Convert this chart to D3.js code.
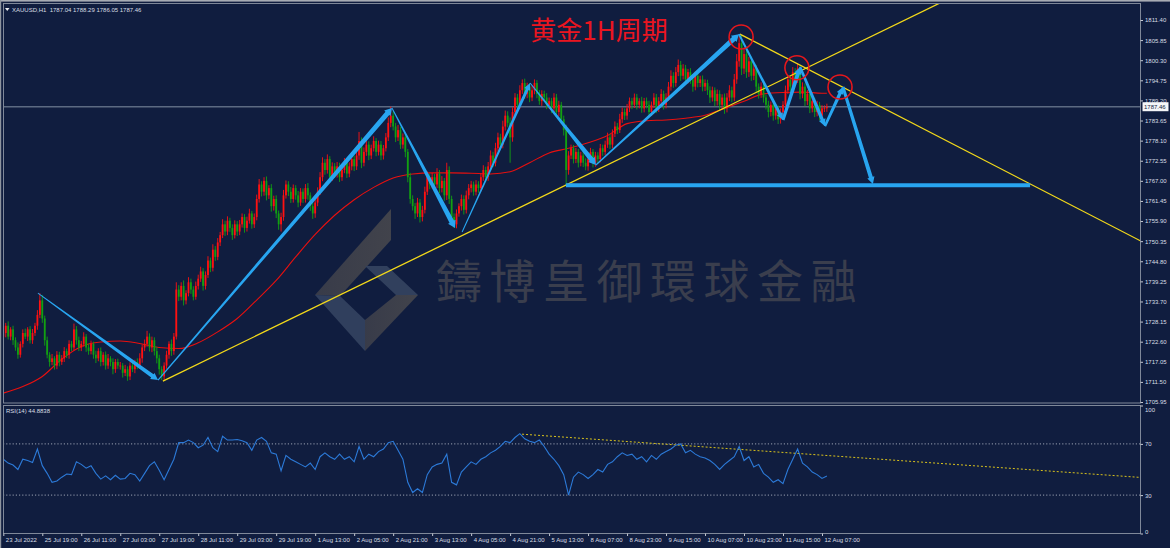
<!DOCTYPE html>
<html><head><meta charset="utf-8">
<script src="https://cdn.jsdelivr.net/npm/d3@7/dist/d3.min.js"></script>
<style>body{margin:0;background:#101d3f;overflow:hidden}svg{display:block}</style>
</head><body>
<svg id="c" width="1170" height="548"></svg>
<script>
// ---------------- DATA ----------------
const symbolHeader = "XAUUSD,H1  1787.04 1788.29 1786.05 1787.46";
const titleText = "黄金1H周期";
const watermarkText = "鑄博皇御環球金融";
const rsiLabel = "RSI(14) 44.8838";

const firstOpen = 1724;
// hourly closes, one per bar
const closes = [
1725,1727,1724,1726,1723,1721,1719,1722,1725,1724,1726,1723,1725,1727,1730,1734,
1729,1723,1719,1717,1718,1716,1719,1717,1718,1720,1719,1722,1721,1726,1723,1721,
1722,1724,1721,1720,1722,1719,1718,1720,1717,1719,1716,1718,1717,1715,1717,1716,
1716,1714,1715,1713,1716,1715,1717,1716,1718,1721,1722,1724,1721,1723,1720,1718,
1715,1713,1716,1719,1722,1720,1724,1737,1735,1738,1734,1736,1739,1737,1735,1738,
1740,1742,1738,1741,1745,1743,1748,1746,1750,1752,1755,1753,1756,1754,1752,1755,
1753,1755,1757,1754,1756,1758,1755,1757,1762,1766,1764,1767,1763,1765,1760,1762,
1758,1755,1757,1763,1766,1764,1762,1765,1763,1761,1764,1762,1765,1763,1760,1758,
1761,1764,1768,1772,1770,1773,1768,1771,1769,1771,1768,1770,1772,1769,1771,1773,
1771,1774,1778,1772,1775,1777,1774,1776,1778,1775,1777,1774,1776,1779,1783,1785,
1782,1779,1781,1777,1779,1775,1768,1762,1760,1758,1761,1757,1759,1764,1768,1766,
1768,1766,1769,1765,1767,1763,1770,1762,1757,1755,1758,1760,1762,1759,1763,1765,
1766,1764,1766,1765,1768,1770,1768,1771,1774,1772,1776,1779,1777,1782,1785,1783,
1779,1786,1790,1788,1792,1794,1791,1793,1790,1792,1794,1791,1789,1791,1790,1788,
1789,1787,1790,1786,1788,1784,1781,1770,1774,1776,1773,1775,1772,1774,1772,1771,
1773,1775,1772,1774,1773,1776,1775,1777,1779,1777,1780,1782,1781,1784,1786,1785,
1787,1789,1788,1790,1788,1789,1787,1789,1788,1786,1788,1790,1787,1789,1791,1788,
1790,1793,1796,1794,1797,1799,1796,1798,1795,1797,1795,1793,1796,1794,1795,1793,
1794,1792,1790,1792,1789,1791,1788,1790,1787,1790,1792,1790,1795,1800,1805,1798,
1802,1797,1800,1796,1798,1793,1791,1793,1790,1788,1786,1788,1785,1787,1784,1786,
1788,1792,1795,1793,1797,1795,1798,1791,1793,1789,1791,1787,1789,1786,1788,1785,
1787,1787.04,1787.46];
// upper wick length above body top, per bar
const wickUp = [
1,0.8,1.2,0.6,1,0.8,1.4,0.7,1,1.2,0.6,0.9,1.1,0.8,1.3,2,
1.5,0.8,1,0.7,1.2,0.6,1,0.8,0.9,1.1,0.7,1,0.8,1.6,0.9,1,
0.8,1.2,0.7,1,0.9,0.6,1.1,0.8,1,0.7,0.9,1.2,0.6,1,0.8,0.9,
1,0.7,1.2,0.8,0.9,1.1,0.6,1,1.4,0.8,1.2,1.6,0.9,1,0.8,1.2,
1,0.8,0.9,1.1,0.7,1.2,1,2,1.2,1,1.5,0.8,1.4,1,0.9,1.2,
1.1,1.3,0.9,1,1.2,0.8,1.5,1,1.2,0.9,1.4,1,1.2,0.8,1,1.1,
0.9,1.2,1,0.8,1.1,1.3,0.7,1,1.2,1.5,0.9,1,1.2,0.8,1.1,0.9,
1,0.8,1.2,1.5,1.1,0.9,1.3,1,0.8,1.2,1,0.9,1.1,1.4,0.8,1,
0.9,1.2,1.4,1.5,1,1.3,0.8,1.1,0.9,1.2,1,0.8,1.3,0.9,1.1,1.2,
1,1.3,2.5,1,1.2,1.4,0.9,1,1.3,0.8,1.1,1,0.9,1.2,1.5,2.5,
1.2,1,1.4,0.9,1.1,1,0.8,1.2,1,0.9,1.3,1,1.1,1.4,1.6,1,
1.2,0.9,1.5,1,1.3,0.8,2,1,0.9,1,1.1,0.8,1.2,1,1.3,1.1,
1,0.8,1.2,0.9,1.1,1.3,0.9,1.2,1.4,1,1.5,1.3,1,1.6,1.4,1.2,
1.5,1.3,1.2,1,1.4,1,1.2,1.1,0.9,1.3,1,0.8,1.1,1,0.9,1.2,
1,0.9,1.2,1,1.1,0.8,1,1.5,1.2,1,0.9,1.1,0.8,1,0.9,1.2,
1,1.1,0.8,1,0.9,1.2,1,1.1,1.3,0.9,1.2,1.4,1,1.5,1.2,1,
1.2,1,0.9,1.1,1,0.8,1.2,0.9,1,1.1,0.9,1.2,1,1.1,1.3,0.9,
1.2,1.3,1.5,1,1.4,1.5,1.1,1.2,1,0.9,1.1,1,1.2,0.9,1,1.1,
1,0.9,1.1,1,0.8,1.2,1,0.9,1.1,1.2,1.4,1,1.5,2,2.5,2.2,
1.8,1.5,1.2,1.3,1.1,1,0.9,1.2,1,0.8,1.1,0.9,1,1.2,0.8,1,
1,1.3,1.2,1,1.4,1.1,1.5,1,1.2,0.9,1.1,0.8,1,0.9,1.1,0.8,
0.9,0.8,0.83];
// lower wick length below body bottom, per bar
const wickDn = [
1,1.2,0.8,1,1.3,0.9,1.1,0.8,1,0.7,1.2,0.9,1,0.8,1.1,0.9,
1.2,1.5,1,1.3,0.9,1.1,1,1.2,0.8,1,0.9,1.1,1,0.8,1.2,1,
1,0.8,1.2,1,0.9,1.1,1.3,0.8,1.2,1,1.1,0.9,1.2,1.4,1,0.9,
1.1,1.3,0.9,1.2,1,0.8,1.1,1,0.9,1.2,1,0.8,1.1,1.3,1.2,1.4,
1.5,1,1.2,0.9,1.1,1.3,1,0.8,1.2,1,1.4,1.1,0.9,1.2,1,0.8,
1,0.9,1.3,1,0.8,1.2,1,1.1,0.9,1,0.8,1.2,1,1.1,1.3,0.9,
1.2,1,0.9,1.3,1,0.8,1.2,1,0.9,1,1.3,1.1,1.4,1,1.5,1.2,
1.3,1.5,2,1,0.9,1.2,1.1,1,1.2,1.3,0.9,1.1,1,1.2,1.3,1.5,
1.2,1,0.9,1.1,1.3,1,1.4,1,1.2,1.1,1.3,1,0.9,1.2,1,1.1,
1.3,1,1.2,1.5,1,1.1,1.3,1,0.9,1.2,1,1.3,1.1,0.9,1,1.2,
1.1,1.3,1,1.2,1.1,1.5,1.4,1.3,1.2,1.5,1,1.5,1.2,1,0.9,1.3,
1.1,1.3,1,1.4,1.2,1.5,1.3,1.4,1.2,1,1.1,0.9,1.2,1.3,1,1.1,
1.2,1.1,1,1.3,0.9,1,1.2,1,0.9,1.2,1,0.9,1.3,1,1.1,1.2,
7,1.2,1,1.3,1.1,1,1.4,1.2,1.3,1,1.1,1.2,1,1.3,1.1,1.2,
1.1,1.3,1,1.4,1.2,1.3,1.5,4.5,1.3,1,1.2,1.1,1.3,1,1.2,1.1,
1.2,1,1.3,1.1,1.2,0.9,1.1,1,0.9,1.2,1,0.9,1.1,0.8,1,1.2,
1.1,1,1.2,0.9,1.3,1,1.2,1.1,1,1.4,1.1,0.9,1.3,1,1.1,1.3,
1,0.9,1.1,1.3,1,1.1,1.4,1,1.3,1.1,1.2,1.4,1,1.2,1.1,1.3,
1.2,1.3,1.5,1.1,1.4,1.2,1.6,1.3,1.5,1.1,1,1.3,1,1.2,1.5,1.8,
1.5,1.6,1.3,1.4,1.2,1.5,1.3,1.1,1.4,1.3,1.5,1.2,1.4,1.1,1.3,1.2,
1.4,1.1,1,1.3,1.1,1.2,1,1.5,1.2,1.4,1.1,1.3,1.1,1.4,1.2,1.3,
1.1,1,0.99];

// moving average (red), sampled
const maBars = [0,8,16,24,32,40,48,56,64,72,80,88,96,104,112,120,128,136,144,152,160,168,176,184,192,200,208,216,224,232,240,248,256,264,272,280,288,296,304,312,320,328,336,338];
const maValues = [1708.4,1710.2,1713.0,1717.8,1721.3,1722.5,1722.8,1722.1,1721.0,1720.7,1722.3,1725.3,1729.0,1734.1,1739.5,1746.0,1752.2,1757.5,1761.8,1765.2,1767.8,1768.9,1769.2,1769.2,1769.1,1768.9,1769.5,1772.0,1774.7,1776.0,1777.5,1779.5,1782.8,1783.6,1783.8,1784.3,1785.1,1787.0,1789.0,1791.0,1791.4,1791.5,1791.2,1791.2];

// RSI(14), one value every 2 bars
const rsiStep = 2;
const rsiValues = [
58,55,53.5,50,58,57,55.5,66,53,47,40,41,44,46.5,46,56,54,51,53,47,
42.5,45,42,45.5,42.5,43,47,46,41,47,53,56,49.5,42,50,58,71,71,73,71,
67,69,75,67,64,76,73,73,73.4,72.5,71,65,73,75,72,63,62,49,61,58,
56,54,52,55,50,60,63,60,58,62,58,60,56,68,58,62,60,64,66,71,
72,65,58,40,32,35,32,46,52,54,55,62,40,38,48,52,56,54,58,60,
63,65,68,72,71,75,78,74,72,71,73,68,62,58,53,46,30,44,48,46,
43,46,50,48,54,56,60,63,61,62,58,60,56,61,58,62,64,66,69,70,
63,65,62,60,59,57,54,50,54,57,60,68,57,60,52,54,47,44,40,42,
39,50,58,66,55,52,48,46,43,44.88];
const rsiLevels = [70, 30];

// axis ticks
const priceTicks = [1811.40,1805.85,1800.30,1794.75,1789.20,1783.65,1778.10,1772.55,1767.00,1761.45,1755.90,1750.35,1744.80,1739.25,1733.70,1728.15,1722.60,1717.05,1711.50,1705.95];
const rsiTicks = [100,70,30,0];
const timeTickBars = [0,16,32,48,64,80,96,112,128,144,160,176,192,208,224,240,256,272,288,304,320,336];
const timeLabels = ["23 Jul 2022","25 Jul 19:00","26 Jul 11:00","27 Jul 03:00","27 Jul 19:00","28 Jul 11:00","29 Jul 03:00","29 Jul 19:00","1 Aug 13:00","2 Aug 05:00","2 Aug 21:00","3 Aug 13:00","4 Aug 05:00","4 Aug 21:00","5 Aug 13:00","8 Aug 07:00","8 Aug 23:00","9 Aug 15:00","10 Aug 07:00","10 Aug 23:00","11 Aug 15:00","12 Aug 07:00"];

// drawn annotations in data space: [bar, price]
const waveArrows = [
 [[14.2,1736.0],[63.5,1712.0]],
 [[63.5,1712.0],[159.5,1787.1]],
 [[159.5,1787.1],[185.4,1754.0]],
 [[188.3,1752.9],[216.2,1794.0]],
 [[216.2,1794.0],[243.2,1771.4]],
 [[243.2,1771.4],[301.9,1807.5]],
 [[301.9,1807.5],[320.0,1783.8]],
 [[320.0,1783.8],[327.0,1798.4]],
 [[327.0,1798.4],[337.2,1782.1]],
 [[337.2,1782.1],[344.6,1792.9]],
 [[344.6,1792.9],[356.9,1766.1]]];
const neckline = [[230.9,1765.8],[421.4,1765.8]];
const upTrend = [[65.5,1711.7],[232.6,1766.4]];
const downTrend = [[302.3,1807.5],[450.1,1756.2]];
const topCircles = [[302.8,1806.7],[325.7,1798.2],[343.4,1792.9]];
const rsiTrend = [[212.9,77.6],[465.3,44.0]];

// ---------------- STYLE ----------------
const BG = "#101d3f", FRAME = "#7f8899", TXT = "#d9dde5";
const UP = "#ff1111", DN = "#12a012", BLUE = "#28a5f0", YEL = "#f3d91a";
const arrowW = [[0.8,4],[1.2,5],[1,5],[1,3],[1,5],[1.3,5],[2,3],[3,4],[2.5,3.5],[2.5,3.5],[3,4]];
const FONT = "'Liberation Sans', Arial, sans-serif";

// ---------------- SCALES ----------------
const P = {l:3, r:1141, t:3, b:402.5};
const R = {t:405, b:533.5};
const x  = d3.scaleLinear().domain([0,336]).range([3.3, 822]);
const yP = d3.scaleLinear().domain([1705.95,1811.40]).range([402,20]);
const yR = d3.scaleLinear().domain([0,100]).range([533.5,405.5]);

const svg = d3.select("#c");
svg.append("rect").attr("width",1170).attr("height",548).attr("fill",BG);
const defs = svg.append("defs");
defs.append("clipPath").attr("id","cm").append("rect").attr("x",P.l).attr("y",P.t).attr("width",P.r-P.l).attr("height",P.b-P.t);
defs.append("clipPath").attr("id","cr").append("rect").attr("x",P.l).attr("y",R.t).attr("width",P.r-P.l).attr("height",R.b-R.t);
const g1 = defs.append("linearGradient").attr("id","wg1").attr("x1","0").attr("y1","0").attr("x2","1").attr("y2","0");
g1.append("stop").attr("offset","0").attr("stop-color","#3a3d4a");
g1.append("stop").attr("offset","1").attr("stop-color","#44454c");

// window frame
svg.append("rect").attr("x",0).attr("y",0).attr("width",1170).attr("height",1.6).attr("fill","#a7abb3");
svg.append("rect").attr("x",0).attr("y",0).attr("width",1.2).attr("height",548).attr("fill","#8d939e");

// ---------------- WATERMARK ----------------
const wm = svg.append("g").attr("clip-path","url(#cm)");
const logo = [
 {pts:[[391,209],[391,240],[340,296],[315,295]], fill:"url(#wg1)"},
 {pts:[[315,295],[340,296],[365,320],[365,351]], fill:"#33415f"},
 {pts:[[365,351],[365,320],[396,295],[418,295]], fill:"url(#wg1)"},
 {pts:[[365,266],[387,266],[418,295],[396,295]], fill:"#34425f"}];
wm.selectAll("polygon").data(logo).join("polygon")
  .attr("points",d=>d.pts.map(p=>p.join(",")).join(" ")).attr("fill",d=>d.fill).attr("opacity",0.95);
wm.append("text").attr("x",436).attr("y",298).text(watermarkText)
  .attr("font-family","'Noto Sans CJK TC','Noto Sans CJK SC',sans-serif").attr("font-size",46)
  .attr("letter-spacing",7.5).attr("fill","#3a3e4d");

// ---------------- MAIN PANEL ----------------
const main = svg.append("g").attr("clip-path","url(#cm)");
const lastClose = closes[closes.length-1];
main.append("line").attr("x1",P.l).attr("x2",P.r).attr("y1",yP(lastClose)).attr("y2",yP(lastClose))
  .attr("stroke","#5c6a82").attr("stroke-width",1.4);

// MA
main.append("path").datum(maValues).attr("fill","none").attr("stroke","#e8100f").attr("stroke-width",1.1)
  .attr("d",d3.line().x((d,i)=>x(maBars[i])).y(d=>yP(d)).curve(d3.curveMonotoneX));

// candles
const bars = closes.map((c,i)=>{const o=i===0?firstOpen:closes[i-1];
  return {i,o,c,h:Math.max(o,c)+wickUp[i],l:Math.min(o,c)-wickDn[i]};});
const cg = main.append("g");
cg.selectAll("line").data(bars).join("line")
  .attr("x1",d=>x(d.i)).attr("x2",d=>x(d.i)).attr("y1",d=>yP(d.h)).attr("y2",d=>yP(d.l))
  .attr("stroke",d=>d.c>=d.o?UP:DN).attr("stroke-width",0.9);
cg.selectAll("rect").data(bars).join("rect")
  .attr("x",d=>x(d.i)-0.9).attr("width",1.8)
  .attr("y",d=>yP(Math.max(d.o,d.c))).attr("height",d=>Math.max(0.8,Math.abs(yP(d.o)-yP(d.c))))
  .attr("fill",d=>d.c>=d.o?UP:DN);

// trend lines (rays)
function ray(a,b,sx,sy,xEnd){
  const x0=sx(a[0]),y0=sy(a[1]),x1=sx(b[0]),y1=sy(b[1]);
  const k=(y1-y0)/(x1-x0);
  return [[x0,y0],[xEnd,y0+k*(xEnd-x0)]];
}
[upTrend,downTrend].forEach(t=>{
  const r=ray(t[0],t[1],x,yP,P.r+20);
  main.append("line").attr("x1",r[0][0]).attr("y1",r[0][1]).attr("x2",r[1][0]).attr("y2",r[1][1])
    .attr("stroke",YEL).attr("stroke-width",1.3);
});

// blue wave arrows
function arrowPoly(p0,p1,w0,w1){
  const dx=p1[0]-p0[0],dy=p1[1]-p0[1],L=Math.hypot(dx,dy);
  const ux=dx/L,uy=dy/L,nx=-uy,ny=ux;
  const hl=Math.min(7,L*0.3),hw=w1+3.5;
  const bx=p1[0]-ux*hl,by=p1[1]-uy*hl;
  const pts=[[p0[0]+nx*w0/2,p0[1]+ny*w0/2],[bx+nx*w1/2,by+ny*w1/2],[bx+nx*hw/2,by+ny*hw/2],p1,
    [bx-nx*hw/2,by-ny*hw/2],[bx-nx*w1/2,by-ny*w1/2],[p0[0]-nx*w0/2,p0[1]-ny*w0/2]];
  return pts.map(p=>p.join(",")).join(" ");
}
main.selectAll("polygon.wave").data(waveArrows).join("polygon").attr("class","wave")
  .attr("points",(d,i)=>arrowPoly([x(d[0][0]),yP(d[0][1])],[x(d[1][0]),yP(d[1][1])],arrowW[i][0],arrowW[i][1]))
  .attr("fill",BLUE);
main.append("line").attr("x1",x(neckline[0][0])).attr("x2",x(neckline[1][0]))
  .attr("y1",yP(neckline[0][1])).attr("y2",yP(neckline[1][1])).attr("stroke",BLUE).attr("stroke-width",4);

// circles
main.selectAll("circle").data(topCircles).join("circle")
  .attr("cx",d=>x(d[0])).attr("cy",d=>yP(d[1])).attr("r",12)
  .attr("fill","none").attr("stroke","#e5171c").attr("stroke-width",1.6);

// title
svg.append("text").attr("x",599).attr("y",40).attr("text-anchor","middle").text(titleText)
  .attr("font-family","'Noto Sans CJK SC',sans-serif").attr("font-size",26).attr("fill","#ea1520");

// header
svg.append("polygon").attr("points","5,8 9.5,8 7.25,11").attr("fill","#e8ebf0");
svg.append("text").attr("x",12).attr("y",11.5).text(symbolHeader)
  .attr("font-family",FONT).attr("font-size",6).attr("fill",TXT).attr("xml:space","preserve").style("white-space","pre");

// ---------------- RSI PANEL ----------------
const rp = svg.append("g").attr("clip-path","url(#cr)");
rp.selectAll("line.lvl").data(rsiLevels).join("line").attr("class","lvl")
  .attr("x1",P.l).attr("x2",P.r).attr("y1",d=>yR(d)).attr("y2",d=>yR(d))
  .attr("stroke","#a9b0bf").attr("stroke-width",0.9).attr("stroke-dasharray","1.2,2");
{
  const r=ray(rsiTrend[0],rsiTrend[1],x,yR,P.r+10);
  rp.append("line").attr("x1",r[0][0]).attr("y1",r[0][1]).attr("x2",r[1][0]).attr("y2",r[1][1])
    .attr("stroke","#d8c21c").attr("stroke-width",1).attr("stroke-dasharray","2,2");
}
rp.append("path").datum(rsiValues).attr("fill","none").attr("stroke","#2c7ad8").attr("stroke-width",1.1)
  .attr("d",d3.line().x((d,k)=>x(k*rsiStep)).y(d=>yR(d)));
svg.append("text").attr("x",6).attr("y",413).text(rsiLabel)
  .attr("font-family",FONT).attr("font-size",6).attr("fill",TXT);

// ---------------- FRAMES ----------------
const fr = svg.append("g").attr("fill","none").attr("stroke",FRAME).attr("stroke-width",1);
fr.append("rect").attr("x",P.l+0.5).attr("y",P.t+0.5).attr("width",P.r-P.l-1).attr("height",P.b-P.t);
fr.append("rect").attr("x",P.l+0.5).attr("y",R.t+0.5).attr("width",P.r-P.l-1).attr("height",R.b-R.t-0.5);

// ---------------- AXES ----------------
const pa = svg.append("g").attr("transform",`translate(${P.r-0.5},0)`)
  .call(d3.axisRight(yP).tickValues(priceTicks).tickFormat(d=>d.toFixed(2)).tickSize(2.5).tickPadding(2));
const ra = svg.append("g").attr("transform",`translate(${P.r-0.5},0)`)
  .call(d3.axisRight(yR).tickValues(rsiTicks).tickFormat(d3.format("d")).tickSize(2.5).tickPadding(2));
ra.selectAll(".tick text").attr("y",d=>d===100?4:(d===0?-2:0));
const ta = svg.append("g").attr("transform",`translate(0,${R.b})`)
  .call(d3.axisBottom(x).tickValues(timeTickBars).tickFormat((d,i)=>timeLabels[i]).tickSize(2.5).tickPadding(2));
ta.selectAll(".tick text").attr("text-anchor","start").attr("x",2).attr("dy","0.71em");
[pa,ra,ta].forEach(a=>{
  a.select(".domain").remove();
  a.selectAll(".tick line").attr("stroke","#c5c9d2");
  a.selectAll(".tick text").attr("fill",TXT).attr("font-family",FONT).attr("font-size",6);
});

// current price box
const cy = yP(lastClose);
svg.append("rect").attr("x",P.r+1.5).attr("y",cy-4.5).attr("width",26).attr("height",9).attr("fill","#f4f5f7");
svg.append("text").attr("x",P.r+3).attr("y",cy+2).text(lastClose.toFixed(2))
  .attr("font-family",FONT).attr("font-size",6).attr("fill","#101d3f");
</script>
</body></html>
